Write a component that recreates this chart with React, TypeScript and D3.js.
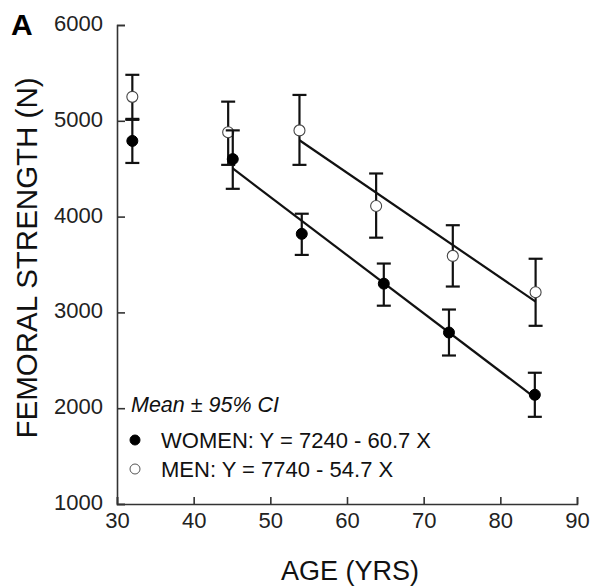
import React, { useEffect, useRef } from 'react';
import * as d3 from 'd3';

// ages (yrs) and femoral strength (N)
const womenAge = [32, 45.1, 54.1, 64.8, 73.3, 84.5];
const womenMean = [4790, 4600, 3820, 3300, 2790, 2140];
const womenLo = [4560, 4290, 3600, 3070, 2550, 1910];
const womenHi = [5010, 4900, 4030, 3510, 3030, 2370];

const menAge = [32, 44.5, 53.8, 63.8, 73.8, 84.6];
const menMean = [5250, 4880, 4900, 4110, 3590, 3210];
const menLo = [5020, 4540, 4540, 3780, 3270, 2860];
const menHi = [5480, 5200, 5270, 4450, 3910, 3560];

// regression fits: [intercept, slope, first age, last age]
const womenFit = [7240, -60.7, 45.1, 84.5];
const menFit = [7740, -54.7, 53.8, 84.6];

const xTicks = [30, 40, 50, 60, 70, 80, 90];
const yTicks = [1000, 2000, 3000, 4000, 5000, 6000];

const legendLabels = ['WOMEN: Y = 7240 - 60.7 X', 'MEN: Y = 7740 - 54.7 X'];

const FONT = '"Liberation Sans", Arial, Helvetica, sans-serif';

export default function App() {
  const ref = useRef<SVGSVGElement>(null);

  useEffect(() => {
    const svg = d3.select(ref.current);
    svg.selectAll('*').remove();

    const x = d3.scaleLinear().domain([30, 90]).range([117, 577]);
    const y = d3.scaleLinear().domain([1000, 6000]).range([504, 25]);

    const axisColor = '#333';

    const gx = svg.append('g')
      .attr('transform', `translate(0,${y(1000)})`)
      .call(d3.axisBottom(x).tickValues(xTicks).tickSize(-7).tickPadding(9).tickFormat(d3.format('d')));
    const gy = svg.append('g')
      .attr('transform', `translate(${x(30)},0)`)
      .call(d3.axisLeft(y).tickValues(yTicks).tickSize(-8).tickPadding(14).tickFormat(d3.format('d')));

    [gx, gy].forEach(g => {
      g.select('.domain').attr('stroke', axisColor).attr('stroke-width', 1.6);
      g.selectAll('.tick line').attr('stroke', axisColor).attr('stroke-width', 1.6);
      g.selectAll('.tick text')
        .attr('fill', '#222')
        .style('font-family', FONT)
        .style('font-size', '22px');
    });
    gy.selectAll('.tick text').attr('dy', '0.25em');
    gx.selectAll('.tick text').attr('dy', '0.68em');

    // regression lines
    const line = d3.line<number>().x(a => x(a));
    [womenFit, menFit].forEach(f => {
      const pts = [f[2], f[3]];
      svg.append('path')
        .attr('d', line.y(a => y(f[0] + f[1] * a))(pts))
        .attr('fill', 'none')
        .attr('stroke', '#111')
        .attr('stroke-width', 2.2);
    });

    const cap = 7;
    const drawSeries = (ages: number[], mean: number[], lo: number[], hi: number[], filled: boolean) => {
      const g = svg.append('g');
      ages.forEach((a, i) => {
        const cx = x(a);
        g.append('line').attr('x1', cx).attr('x2', cx).attr('y1', y(lo[i])).attr('y2', y(hi[i]))
          .attr('stroke', '#111').attr('stroke-width', 2.2);
        [lo[i], hi[i]].forEach(v => {
          g.append('line').attr('x1', cx - cap).attr('x2', cx + cap).attr('y1', y(v)).attr('y2', y(v))
            .attr('stroke', '#111').attr('stroke-width', 2.2);
        });
      });
      g.selectAll('circle')
        .data(ages)
        .enter().append('circle')
        .attr('cx', a => x(a))
        .attr('cy', (a, i) => y(mean[i]))
        .attr('r', 5.5)
        .attr('fill', filled ? '#000' : '#fff')
        .attr('stroke', filled ? '#000' : '#444')
        .attr('stroke-width', filled ? 1 : 1.1);
    };
    drawSeries(menAge, menMean, menLo, menHi, false);
    drawSeries(womenAge, womenMean, womenLo, womenHi, true);

    // legend
    svg.append('text')
      .attr('x', 131).attr('y', 412)
      .style('font-family', FONT).style('font-size', '21.5px').style('font-style', 'italic')
      .attr('fill', '#111')
      .text('Mean \u00b1 95% CI');
    legendLabels.forEach((lab, i) => {
      const cy = 440 + i * 29;
      svg.append('circle')
        .attr('cx', 135).attr('cy', cy).attr('r', 5)
        .attr('fill', i === 0 ? '#000' : '#fff')
        .attr('stroke', i === 0 ? '#000' : '#555')
        .attr('stroke-width', 1);
      svg.append('text')
        .attr('x', 161).attr('y', cy + 7.5)
        .style('font-family', FONT).style('font-size', '22px')
        .attr('fill', '#111')
        .text(lab);
    });

    // axis titles
    svg.append('text')
      .attr('x', 350).attr('y', 580)
      .attr('text-anchor', 'middle')
      .style('font-family', FONT).style('font-size', '27px')
      .attr('fill', '#111')
      .text('AGE (YRS)');
    svg.append('text')
      .attr('transform', 'translate(37,258) rotate(-90)')
      .attr('text-anchor', 'middle')
      .style('font-family', FONT).style('font-size', '29.5px')
      .attr('fill', '#111')
      .text('FEMORAL STRENGTH (N)');

    svg.append('text')
      .attr('x', 11).attr('y', 35)
      .style('font-family', FONT).style('font-size', '30px').style('font-weight', 'bold')
      .attr('fill', '#000')
      .text('A');
  }, []);

  return (
    <svg ref={ref} width={592} height={586}
      style={{ position: 'absolute', left: 0, top: 0, background: '#fff' }} />
  );
}
